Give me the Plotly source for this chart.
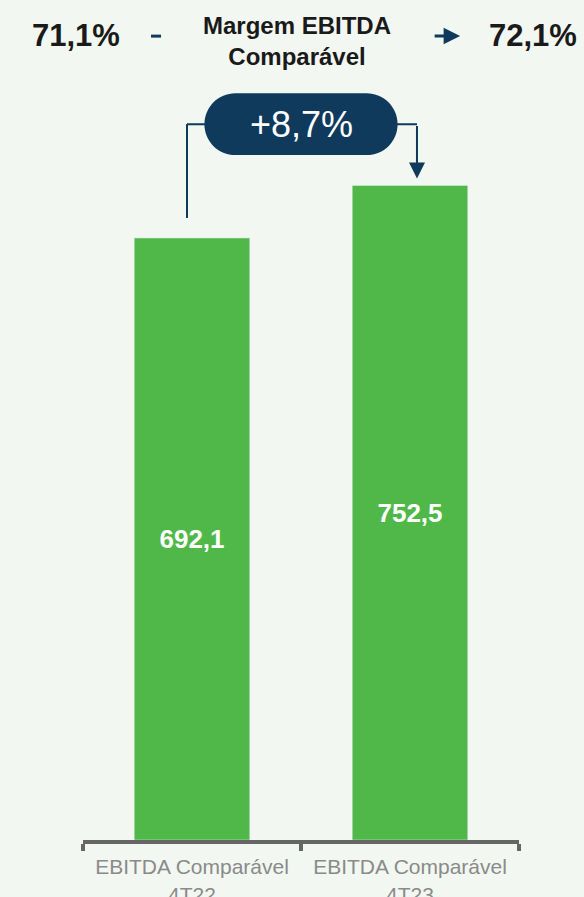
import pandas as pd
import numpy as np
import plotly.express as px
import plotly.graph_objects as go

NAVY = '#0f3a5c'
GREEN = '#50b848'
BG = '#f2f7f1'


def build_data():
    """
    Build the dataframe with the comparable EBITDA values
    """
    df = pd.DataFrame({
        'periodo': ['EBITDA Comparável<br>4T22', 'EBITDA Comparável<br>4T23'],
        'ebitda': [692.1, 752.5],
        'margem': [71.1, 72.1],
    })
    df['rotulo'] = ['<b>' + f'{v:.1f}'.replace('.', ',') + '</b>' for v in df['ebitda']]
    return df


def pill_path(xc, yc, half_w, half_h, rx):
    """
    SVG path for a rounded pill (ends approximated with cubic curves)
    """
    k = 0.5523
    ry = half_h
    x1, x2 = xc - half_w + rx, xc + half_w - rx
    return (f'M {x1},{yc + ry} L {x2},{yc + ry} '
            f'C {x2 + k * rx},{yc + ry} {x2 + rx},{yc + k * ry} {x2 + rx},{yc} '
            f'C {x2 + rx},{yc - k * ry} {x2 + k * rx},{yc - ry} {x2},{yc - ry} '
            f'L {x1},{yc - ry} '
            f'C {x1 - k * rx},{yc - ry} {x1 - rx},{yc - k * ry} {x1 - rx},{yc} '
            f'C {x1 - rx},{yc + k * ry} {x1 - k * rx},{yc + ry} {x1},{yc + ry} Z')


def generate_graph(df):
    """
    Bar chart of comparable EBITDA with growth badge and margin header
    """
    fig = px.bar(df, x='periodo', y='ebitda', text='rotulo')
    fig.update_traces(marker_color=GREEN, width=0.53,
                      textposition='inside', insidetextanchor='middle',
                      textfont=dict(color='white', size=26, family='Liberation Sans, Arial'))

    v1, v2 = df['ebitda'].tolist()
    growth = (v2 / v1 - 1) * 100
    yc = 823.0  # level of the badge

    # connector lines
    fig.add_shape(type='line', x0=-0.023, x1=-0.023, y0=v1 + 23, y1=yc,
                  line=dict(color=NAVY, width=2))
    fig.add_shape(type='line', x0=-0.023, x1=0.2, y0=yc, y1=yc,
                  line=dict(color=NAVY, width=2))
    fig.add_shape(type='line', x0=0.8, x1=1.032, y0=yc, y1=yc,
                  line=dict(color=NAVY, width=2))
    fig.add_annotation(x=1.032, y=v2 + 8, ax=0, ay=-54, text='', showarrow=True,
                       arrowhead=2, arrowsize=1.6, arrowwidth=2, arrowcolor=NAVY)

    # growth badge
    fig.add_shape(type='path', path=pill_path(0.5, yc, 0.443, 35.6, 0.142),
                  fillcolor=NAVY, line=dict(width=0))
    fig.add_annotation(x=0.5, y=yc, text=f'+{growth:.1f}%'.replace('.', ','),
                       showarrow=False, font=dict(color='white', size=36))

    # margin header
    head_font = dict(color='#1a1a1a', size=31, family='Liberation Sans, Arial')
    fig.add_annotation(xref='paper', yref='paper', x=-0.016, y=0.958,
                       xanchor='center', yanchor='middle',
                       text=f"<b>{df['margem'][0]:.1f}%</b>".replace('.', ','),
                       showarrow=False, font=head_font)
    fig.add_annotation(xref='paper', yref='paper', x=1.032, y=0.958,
                       xanchor='center', yanchor='middle',
                       text=f"<b>{df['margem'][1]:.1f}%</b>".replace('.', ','),
                       showarrow=False, font=head_font)
    fig.add_annotation(xref='paper', yref='paper', x=0.491, y=0.951,
                       xanchor='center', yanchor='middle',
                       text='<b>Margem EBITDA<br>Comparável</b>', showarrow=False,
                       font=dict(color='#1a1a1a', size=24, family='Liberation Sans, Arial'))
    fig.add_shape(type='line', xref='paper', yref='paper', x0=0.156, x1=0.179,
                  y0=0.957, y1=0.957, line=dict(color=NAVY, width=3))
    fig.add_annotation(xref='paper', yref='paper', x=0.865, y=0.957, ax=-27, ay=0,
                       text='', showarrow=True, arrowhead=2, arrowsize=1.1,
                       arrowwidth=3, arrowcolor=NAVY)

    fig.update_layout(
        width=584, height=897,
        margin=dict(l=83, r=65, t=0, b=57),
        paper_bgcolor=BG, plot_bgcolor=BG,
        font=dict(family='Liberation Sans, Arial'),
        showlegend=False,
    )
    fig.update_xaxes(title=None, range=[-0.5, 1.5], showline=True, linecolor='#666666',
                     linewidth=4, ticks='outside', tickson='boundaries', ticklen=7,
                     tickwidth=4, tickcolor='#666666', ticklabelstandoff=5,
                     automargin=False, tickfont=dict(size=21, color='#8a8a8a'))
    fig.update_yaxes(visible=False, range=[0, 965.7])
    return fig


df = build_data()
fig = generate_graph(df)
fig.write_html('out.html', config={'displayModeBar': False},
               post_script="document.body.style.margin='0';")
